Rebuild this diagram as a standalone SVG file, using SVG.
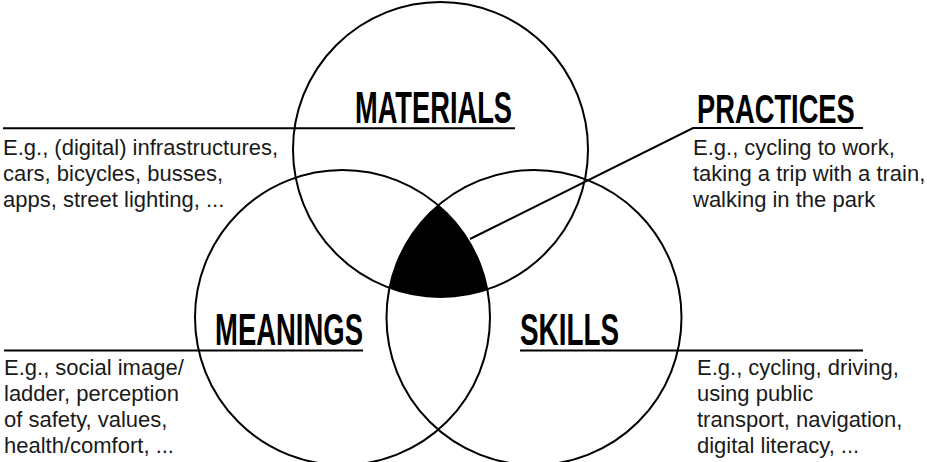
<svg xmlns="http://www.w3.org/2000/svg" width="927" height="462" viewBox="0 0 927 462">
<style>
.c{fill:none;stroke:#000;stroke-width:2}
.l{fill:none;stroke:#000;stroke-width:2}
.h{font-family:"Liberation Sans Narrow","Liberation Sans",Arial,sans-serif;font-weight:bold;font-size:44px;fill:#000}
.t{font-family:"Liberation Sans",Arial,sans-serif;font-size:22px;fill:#1a1a1a}
</style>
<defs>
<clipPath id="cm"><circle cx="342.5" cy="317.5" r="147.5"/></clipPath>
<clipPath id="cs"><circle cx="534" cy="317.5" r="147.5"/></clipPath>
</defs>
<rect width="927" height="462" fill="#fff"/>
<g id="core" clip-path="url(#cm)"><circle cx="440.5" cy="149.5" r="147.5" fill="#000" clip-path="url(#cs)"/></g>
<g id="materials">
<circle class="c" cx="440.5" cy="149.5" r="147.5"/>
<text class="h" x="355" y="123" textLength="157" lengthAdjust="spacingAndGlyphs">MATERIALS</text>
<text class="t"><tspan x="3" y="155">E.g., (digital) infrastructures,</tspan><tspan x="3" y="181">cars, bicycles, busses,</tspan><tspan x="3" y="207">apps, street lighting, ...</tspan></text>
</g>
<g id="meanings">
<circle class="c" cx="342.5" cy="317.5" r="147.5"/>
<text class="h" x="215" y="345" textLength="148" lengthAdjust="spacingAndGlyphs">MEANINGS</text>
<text class="t"><tspan x="4" y="375">E.g., social image/</tspan><tspan x="4" y="401">ladder, perception</tspan><tspan x="4" y="427">of safety, values,</tspan><tspan x="4" y="453">health/comfort, ...</tspan></text>
</g>
<g id="skills">
<circle class="c" cx="534" cy="317.5" r="147.5"/>
<text class="h" x="520" y="345" textLength="99" lengthAdjust="spacingAndGlyphs">SKILLS</text>
<text class="t"><tspan x="697" y="375">E.g., cycling, driving,</tspan><tspan x="697" y="401">using public</tspan><tspan x="697" y="427">transport, navigation,</tspan><tspan x="697" y="453">digital literacy, ...</tspan></text>
</g>
<g id="practices">
<text class="h" transform="translate(697,123) scale(0.6,1)" x="0" y="0" textLength="263" lengthAdjust="spacingAndGlyphs" style="font-size:41px">PRACTICES</text>
<text class="t"><tspan x="693" y="155">E.g., cycling to work,</tspan><tspan x="693" y="181">taking a trip with a train,</tspan><tspan x="693" y="207">walking in the park</tspan></text>
</g>
<g id="connectors">
<line class="l" x1="3" y1="128.3" x2="515" y2="128.3"/>
<line class="l" x1="4" y1="350.5" x2="363" y2="350.5"/>
<line class="l" x1="520" y1="350.5" x2="863" y2="350.5"/>
<polyline class="l" points="470,239 693,128 863,128"/>
</g>
</svg>
